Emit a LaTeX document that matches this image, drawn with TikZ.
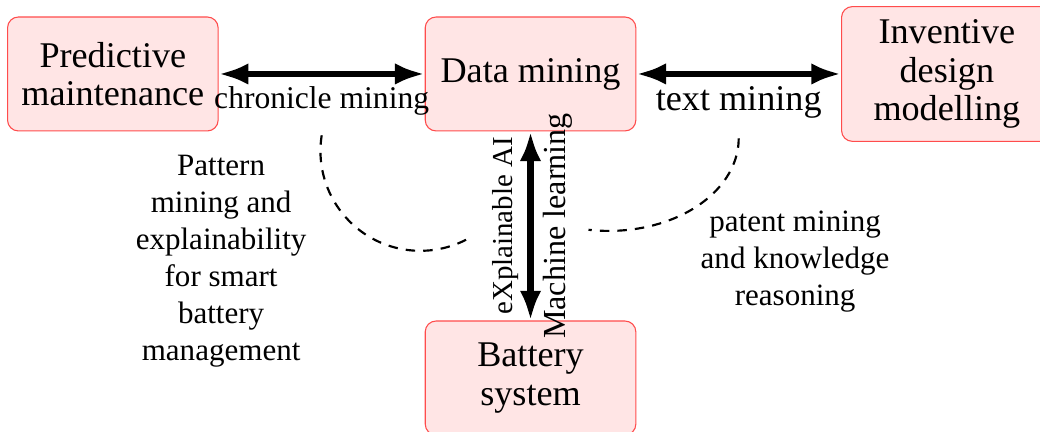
\documentclass[tikz,border=0pt]{standalone}
\newif\ifpalat
\IfFileExists{t1ppl.fd}{\IfFileExists{pplr8t.tfm}{\palattrue}{}}{}
\ifpalat
  \usepackage[T1]{fontenc}
  \renewcommand{\rmdefault}{ppl}
\else
  \usepackage{fontspec}
  \setmainfont{Liberation Serif}
\fi
\usepackage{tikz}
\usetikzlibrary{arrows.meta, positioning}
\usepackage{xcolor}

\begin{document}
\begin{tikzpicture}[
  block/.style={rectangle, rounded corners=4pt, minimum width=78pt,
    minimum height=42.2pt, draw=red!70, fill=red!10, align=center,
    font=\fontsize{13.4}{14.3}\selectfont, inner sep=4pt},
  arr/.style={{Latex[length=11pt,width=8pt]}-{Latex[length=11pt,width=8pt]}, line width=2.4pt},
  lbl/.style={font=\fontsize{11.7}{13}\selectfont},
  note/.style={align=center, font=\fontsize{11.5}{13.7}\selectfont},
  arc/.style={thick, dash pattern=on 3.5pt off 3pt},
  node distance=76pt,
]
  \useasboundingbox (-196.5pt,-132.6pt) rectangle (188.7pt,27.4pt);

  \node[block] (dm) {Data mining};
  \node[block, left=76.3pt of dm] (pm) {Predictive\\maintenance};
  \node[block, right=75.8pt of dm, minimum height=49.9pt] (idm) {Inventive\\design\\modelling};
  \node[block, below=70pt of dm] (bs) {Battery\\system};

  \draw[arr] (pm) -- node[lbl, below] (chron) {chronicle mining} (dm);
  \draw[arr] (dm) -- node[below, font=\fontsize{13.4}{14.3}\selectfont] (txt) {text mining} (idm);
  \draw[arr] (bs) -- node[sloped, above, font=\fontsize{10.7}{13}\selectfont] (xai) {eXplainable AI}
    node[sloped, below, font=\fontsize{11.9}{13}\selectfont] (ml) {Machine learning} (dm);

  % dashed hints
  \draw[arc] ([yshift=-3pt]chron.south) arc[start angle=171, end angle=300, radius=37pt];
  \draw[arc] ([yshift=-3pt]txt.south) arc[start angle=0, end angle=-99, x radius=48.1pt, y radius=34.3pt];

  \node[note] (patt) at (-114.6pt,-69.5pt)
    {Pattern\\mining and\\explainability\\for smart\\battery\\management};
  \node[note] (pat) at (98pt,-69.6pt) {patent mining\\and knowledge\\reasoning};
\end{tikzpicture}
\end{document}
